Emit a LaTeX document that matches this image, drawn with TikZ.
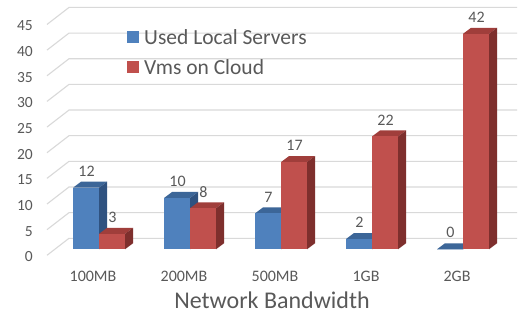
\documentclass[tikz,border=0pt]{standalone}
\usepackage{fontspec}
\setmainfont{Carlito}
\definecolor{gridgray}{HTML}{D9D9D9}
\definecolor{txtgray}{HTML}{595959}
\definecolor{blueFront}{HTML}{4F81BD}
\definecolor{blueTop}{HTML}{3C6698}
\definecolor{blueSide}{HTML}{2F5280}
\definecolor{redFront}{HTML}{C0504D}
\definecolor{redTop}{HTML}{A03E3B}
\definecolor{redSide}{HTML}{7E2F2D}

% one 3-D column: left x, value, front/top/side colours, name
\newcommand\chartbar[6]{%
  \pgfmathsetmacro\ytop{249.3-#2*5.13}%
  \fill[#4] (#1,\ytop) -- ++(8,-6) -- ++(26,0) -- ++(-8,6) -- cycle;
  \fill[#5] ({#1+26},249.3) -- ++(8,-6) -- ({#1+34},{\ytop-6}) -- ({#1+26},\ytop) -- cycle;
  \fill[#3] (#1,249.3) rectangle ({#1+26},\ytop);
  \node[vallabel] (#6) at ({#1+13.5},{\ytop-16.5}) {#2};
}

\begin{document}
\begin{tikzpicture}[x=1pt,y=-1pt,
  gridline/.style={draw=gridgray,line width=1.1pt},
  ticklabel/.style={anchor=east,text=txtgray,inner sep=0pt,font=\fontsize{15.5}{18}\selectfont},
  vallabel/.style={text=txtgray,inner sep=0pt,font=\fontsize{16}{19}\selectfont},
  catlabel/.style={text=txtgray,inner sep=0pt,font=\fontsize{16}{19}\selectfont},
  legendtext/.style={anchor=west,text=txtgray,inner sep=0pt,font=\fontsize{21.5}{25}\selectfont},
  legendkey/.style={minimum size=12pt,inner sep=0pt},
  axistitle/.style={text=txtgray,inner sep=0pt,font=\fontsize{24}{28}\selectfont}]
\useasboundingbox (0,0) rectangle (519,331);
\fill[white] (0,0) rectangle (519,331);

% back wall and side wall gridlines with value axis
\foreach \v in {0,5,...,45}{
  \pgfmathsetmacro\yb{238.3-\v*5.13}
  \draw[gridline] (47,{\yb+17}) -- (69,\yb) -- (517,\yb);
  \node[ticklabel] (tick\v) at (33,{\yb+18.5}) {\v};
}

% columns per bandwidth class
\foreach \i/\lbl/\b/\r in {0/100MB/12/3, 1/200MB/10/8, 2/500MB/7/17, 3/1GB/2/22, 4/2GB/0/42}{
  \pgfmathsetmacro\xa{73+91*\i}
  \pgfmathsetmacro\xb{\xa+26}
  \chartbar{\xa}{\b}{blueFront}{blueTop}{blueSide}{local\i}
  \chartbar{\xb}{\r}{redFront}{redTop}{redSide}{cloud\i}
  \node[catlabel] (cat\i) at ({\xa+20},276) {\lbl};
}

% legend
\node[legendkey,fill=blueFront] (keyLocal) at (133,37) {};
\node[legendtext] (txtLocal) at (144,37) {Used Local Servers};
\node[legendkey,fill=redFront] (keyCloud) at (133,67) {};
\node[legendtext] (txtCloud) at (144,67) {Vms on Cloud};

% axis title
\node[axistitle] (xtitle) at (272,300) {Network Bandwidth};
\end{tikzpicture}
\end{document}
